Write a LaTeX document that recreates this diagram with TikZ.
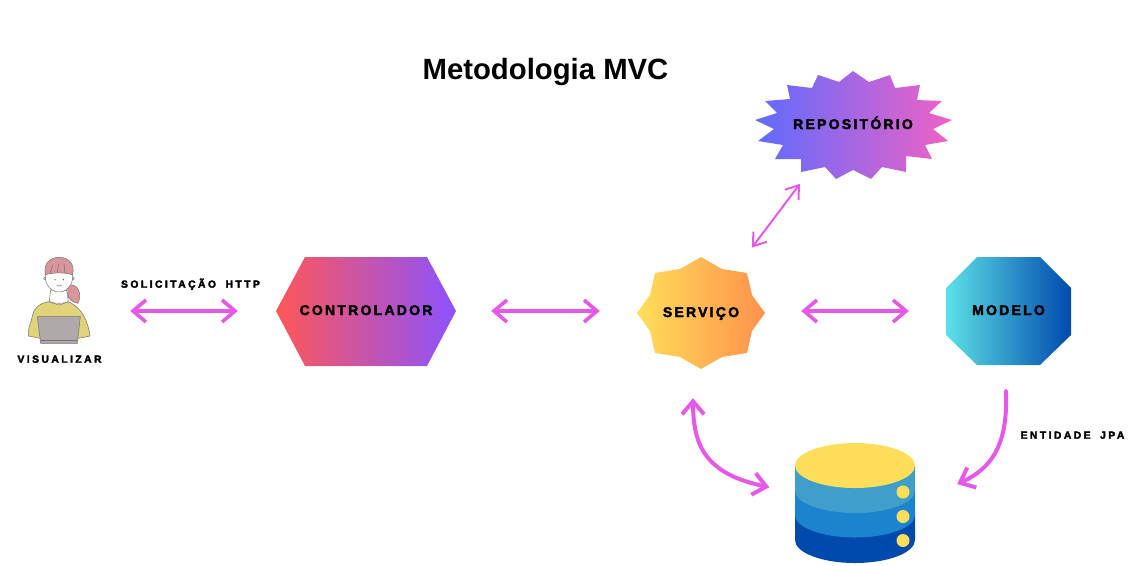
\documentclass[tikz,border=0pt]{standalone}
\usepackage{fontspec}
\setmainfont{Liberation Sans}
\newfontfamily\rotulofont{Liberation Sans}[UprightFont=* Bold,LetterSpace=24,WordSpace=1.8,FakeBold=3]
\newfontfamily\formafont{Liberation Sans}[UprightFont=* Bold,LetterSpace=16,FakeBold=2.5]
\usetikzlibrary{arrows.meta}
\definecolor{rosaseta}{HTML}{E659E8}
\definecolor{cabelo}{HTML}{D9969A}
\definecolor{blusa}{HTML}{E0D37A}
\definecolor{laptop}{HTML}{B0A9A9}
\definecolor{contorno}{HTML}{77716F}
\definecolor{amarelo}{HTML}{FFDE59}
\definecolor{azulum}{HTML}{3F9FCA}
\definecolor{azuldois}{HTML}{1C84CE}
\definecolor{azultres}{HTML}{004AAD}
\definecolor{vermelho}{HTML}{FF5757}
\definecolor{roxo}{HTML}{8C52FF}
\definecolor{laranja}{HTML}{FF914D}
\definecolor{ciano}{HTML}{5CE1E6}
\definecolor{anil}{HTML}{5D6BFF}
\definecolor{rosa}{HTML}{F062C4}
\tikzset{
  forma/.style={inner sep=0pt,text height=10pt,text depth=0pt,font=\formafont\fontsize{14}{16}\selectfont},
  rotulo/.style={inner sep=0pt,text height=7.4pt,text depth=0pt,font=\rotulofont\fontsize{10.3}{12}\selectfont},
  seta/.style={draw=rosaseta,line width=3.6pt,line cap=round,>={Straight Barb[length=13pt,width=22pt]}},
}

\begin{document}
\begin{tikzpicture}[x=1pt,y=1pt]
      \useasboundingbox (0,0) rectangle (1132,-565);
      % formas
      \shade[left color=vermelho,right color=roxo]
        (276,-311) -- (305,-257) -- (427,-257) -- (456,-311) -- (427,-366) -- (305,-366) -- cycle;
      \shade[left color=amarelo,right color=laranja]
        (701,-257) -- (722,-269) -- (747,-273) -- (752,-295) -- (765,-313) -- (752,-331) -- (747,-353) -- (722,-357)
        -- (701,-369) -- (680,-357) -- (655,-353) -- (650,-331) -- (637,-313) -- (650,-295) -- (655,-273) -- (680,-269) -- cycle;
      \shade[left color=ciano,right color=azultres]
        (977,-257) -- (1040,-257) -- (1071,-288) -- (1071,-335) -- (1040,-365) -- (977,-365) -- (946,-335) -- (946,-288) -- cycle;
      \shade[left color=anil,right color=rosa]
        (853,-71) -- (869,-82) -- (890,-75) -- (895,-88) -- (920,-85) -- (917,-100) -- (942,-101) -- (929,-113)
        -- (952,-120) -- (933,-129) -- (948,-141) -- (925,-145) -- (932,-159) -- (906,-156) -- (906,-172) -- (882,-167)
        -- (871,-179) -- (853,-170) -- (836,-179) -- (825,-167) -- (801,-172) -- (801,-159) -- (775,-159) -- (783,-145)
        -- (758,-141) -- (774,-129) -- (755,-120) -- (777,-113) -- (765,-101) -- (790,-99) -- (787,-85) -- (812,-88)
        -- (818,-75) -- (839,-82) -- cycle;
      % banco de dados
      \fill[azultres] (795,-515) -- (795,-540) arc[start angle=180,end angle=360,x radius=60,y radius=23] -- (915,-515) -- cycle;
      \fill[azuldois] (795,-490) -- (795,-515) arc[start angle=180,end angle=360,x radius=60,y radius=22.5] -- (915,-490) -- cycle;
      \fill[azulum] (795,-465.5) -- (795,-490.5) arc[start angle=180,end angle=360,x radius=60,y radius=22.5] -- (915,-465.5) -- cycle;
      \fill[amarelo] (855,-465.5) ellipse[x radius=60,y radius=22.5];
      \foreach \y in {-492,-516.5,-540.5}
        \fill[amarelo] (903,\y) circle[radius=6.5];
      % pessoa
      \begin{scope}[shift={(0,-240)},scale=1/3,draw=contorno,line width=.5pt]
        \filldraw[fill=cabelo] (205,-135) .. controls (238,-130) and (246,-165) .. (234,-190) .. controls (220,-187) and (203,-180) .. (203,-160) -- cycle;
        \filldraw[fill=blusa] (145,-185) .. controls (120,-190) and (100,-205) .. (98,-225) .. controls (92,-250) and (82,-270) .. (85,-288)
          -- (120,-295) -- (235,-295) -- (270,-288) .. controls (265,-250) and (250,-205) .. (205,-185) -- (178,-195) -- cycle;
        \filldraw[fill=white] (152,-150) -- (148,-183) .. controls (158,-192) and (195,-192) .. (205,-184) -- (200,-150) -- cycle;
        \filldraw[fill=white] (136,-115) circle[radius=5] (218,-115) circle[radius=5];
        \filldraw[fill=white] (177,-110) ellipse[x radius=41,y radius=46];
        \filldraw[fill=cabelo] (136,-104) .. controls (130,-70) and (150,-52) .. (177,-52) .. controls (205,-52) and (225,-70) .. (218,-104)
          .. controls (195,-97) and (160,-97) .. (136,-104) -- cycle;
        \draw (150,-100) -- (158,-75) (172,-98) -- (176,-72) (195,-99) -- (192,-72);
        \fill[black!70] (165,-119) circle[radius=2] (190,-119) circle[radius=2];
        \draw (170,-135) .. controls (175,-139) and (180,-139) .. (185,-135);
        \filldraw[fill=laptop] (112,-230) -- (241,-230) -- (232,-310) -- (122,-310) -- cycle;
        \draw (122,-300) -- (232,-300);
      \end{scope}
      % textos
      \node[font=\bfseries\fontsize{29.3}{32}\selectfont,inner sep=0pt] (titulo) at (545.5,-72) {Metodologia MVC};
      \node[rotulo] (visualizarrotulo) at (59.5,-359) {VISUALIZAR};
      \node[rotulo] (http) at (190.5,-284) {SOLICITAÇÃO HTTP};
      \node[rotulo] (jpa) at (1072.5,-435) {ENTIDADE JPA};
      % caixas
      \node[inner sep=0pt,minimum width=64pt,minimum height=108pt] (visualizar) at (59,-311) {};
      \node[forma,minimum width=180pt,minimum height=109pt] (controlador) at (366,-310) {CONTROLADOR};
      \node[forma,minimum width=128pt,minimum height=112pt,text height=12pt] (servico) at (701,-311) {SERVIÇO};
      \node[forma,minimum width=125pt,minimum height=108pt] (modelo) at (1008.5,-310) {MODELO};
      \node[forma,minimum width=197pt,minimum height=108pt] (repositorio) at (853,-124) {REPOSITÓRIO};
      \node[inner sep=0pt,minimum width=120pt,minimum height=120pt] (banco) at (855,-503) {};
      % setas
      \begin{scope}[every edge/.style={seta,<->}]
        \path (visualizar.east) edge[shorten <=39pt,shorten >=38pt] (visualizar.east -| controlador.west);
        \path (controlador.east |- visualizar.east) edge[shorten <=35pt,shorten >=37pt] (servico);
        \path (servico) edge[shorten <=36pt,shorten >=37pt] (modelo.west |- servico);
        \path (servico.51) edge[line width=2pt,>={Straight Barb[length=12pt,width=17pt]},shorten <=9pt,shorten >=7pt] (repositorio.228);
      \end{scope}
      \draw[seta,line width=4pt,<->,shorten <=31pt,shorten >=26pt] (servico.262) .. controls (693,-445) and (705,-474) .. (banco.170);
      \draw[seta,line width=4pt,->,shorten <=27pt,shorten >=46pt] (modelo.266) .. controls (1008,-440) and (995,-467) .. (banco.east);
\end{tikzpicture}
\end{document}
